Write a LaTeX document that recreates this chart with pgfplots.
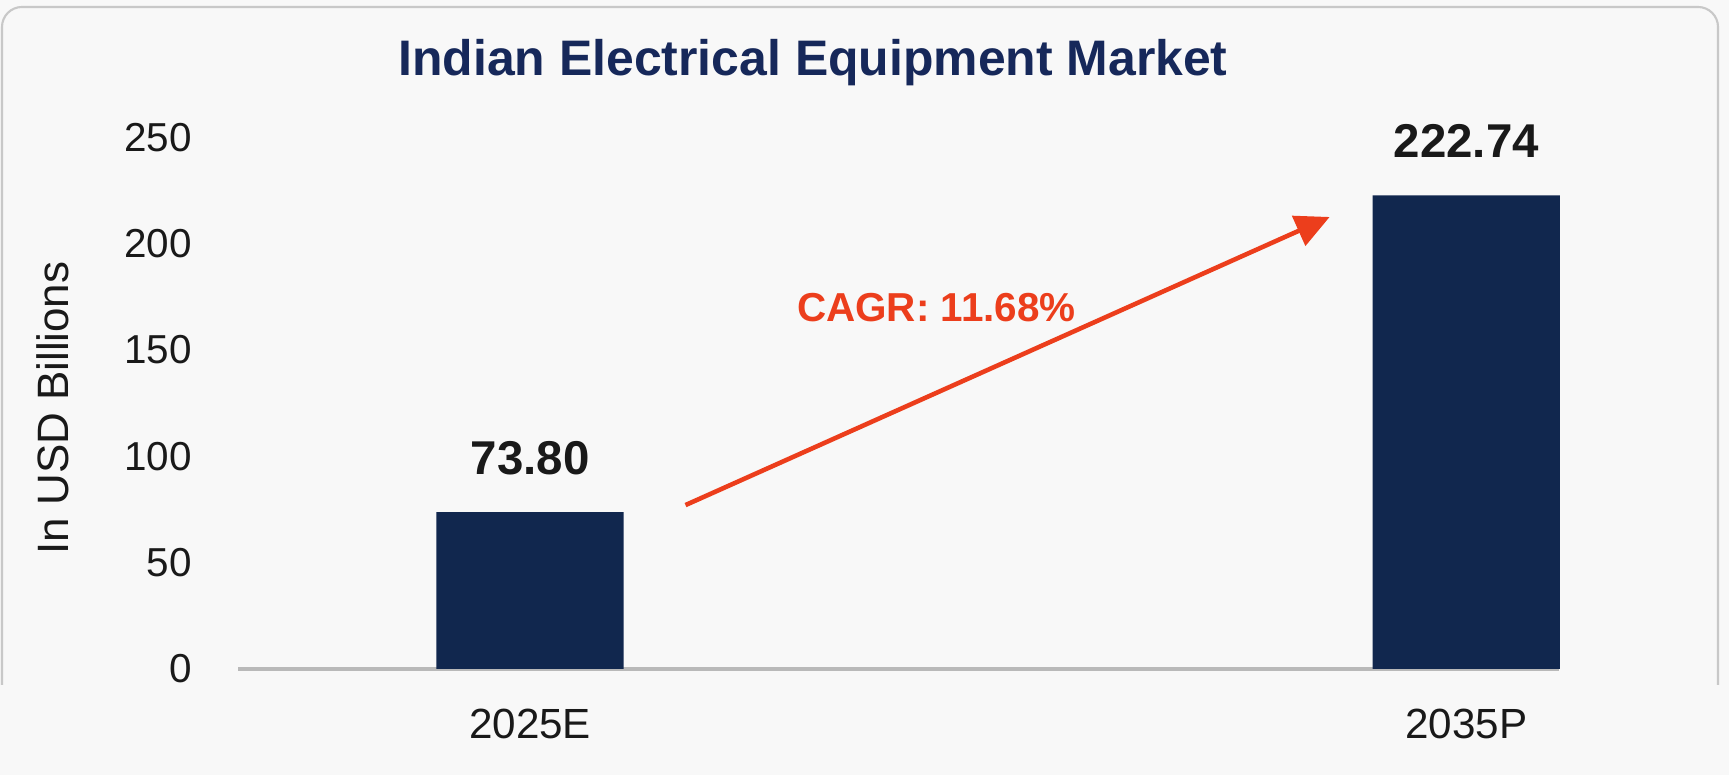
\documentclass[border=0pt]{standalone}
\usepackage{fontspec}
\setmainfont{Liberation Sans}
\usepackage{pgfplots}
\pgfplotsset{compat=1.18}
\usetikzlibrary{arrows.meta}
\definecolor{navybar}{RGB}{17,39,78}
\definecolor{titlenavy}{RGB}{22,40,90}
\definecolor{cagrred}{RGB}{236,62,28}
\definecolor{bgpaper}{RGB}{248,248,248}
\definecolor{framegray}{RGB}{200,200,200}
\definecolor{axisgray}{RGB}{185,185,185}
\definecolor{labelblack}{RGB}{25,25,25}

\begin{document}
\begin{tikzpicture}
% page background and card frame
\fill[bgpaper] (0,0) rectangle (17.29,7.75);
\useasboundingbox (0,0) rectangle (17.29,7.75);
\draw[framegray, line width=0.6pt, rounded corners=0.2cm]
  (0.02,0.9) -- (0.02,7.68) -- (17.18,7.68) -- (17.18,0.9);

% chart title
\node[titlenavy, font=\bfseries\fontsize{14.2}{16}\selectfont]
  at (8.13,7.12) {Indian Electrical Equipment Market};

\begin{axis}[
    at={(2.38cm,1.06cm)}, anchor=south west,
    scale only axis,
    width=13.21cm, height=5.315cm,
    xmin=-0.312, xmax=1.099,
    ymin=0, ymax=250,
    clip=false,
    axis x line*=bottom, axis y line*=left,
    x axis line style={axisgray, line width=0.9pt},
    y axis line style={draw=none},
    major tick length=0pt,
    xtick={0,1}, xticklabels={2025E,2035P},
    ytick={0,50,...,250},
    /pgf/number format/assume math mode=true,
    tick label style={labelblack},
    yticklabel style={font=\fontsize{11.5}{13}\selectfont, xshift=-0.34cm},
    xticklabel style={font=\fontsize{12}{14}\selectfont, yshift=-0.28cm},
    ylabel={In USD Billions},
    ylabel style={at={(axis description cs:-0.14,0.491)}, anchor=center,
                  font=\fontsize{12.5}{14}\selectfont, labelblack},
]
\addplot[ybar, bar width=0.2, fill=navybar, draw=none,
    nodes near coords={\pgfmathprintnumber[fixed,fixed zerofill,precision=2]{\pgfplotspointmeta}},
    nodes near coords style={anchor=center, yshift=0.54cm, labelblack,
                             font=\bfseries\fontsize{13.5}{15}\selectfont}]
  coordinates {(0,73.80) (1,222.74)};

% growth arrow and CAGR note
\draw[cagrred, line width=1.3pt, -{Triangle[length=0.34cm,width=0.32cm]}]
  (axis cs:0.166,77.1) -- (axis cs:0.854,212.6);
\node[cagrred, font=\bfseries\fontsize{11.5}{13}\selectfont]
  at (axis cs:0.434,169.8) {CAGR: 11.68\%};
\end{axis}
\end{tikzpicture}
\end{document}
